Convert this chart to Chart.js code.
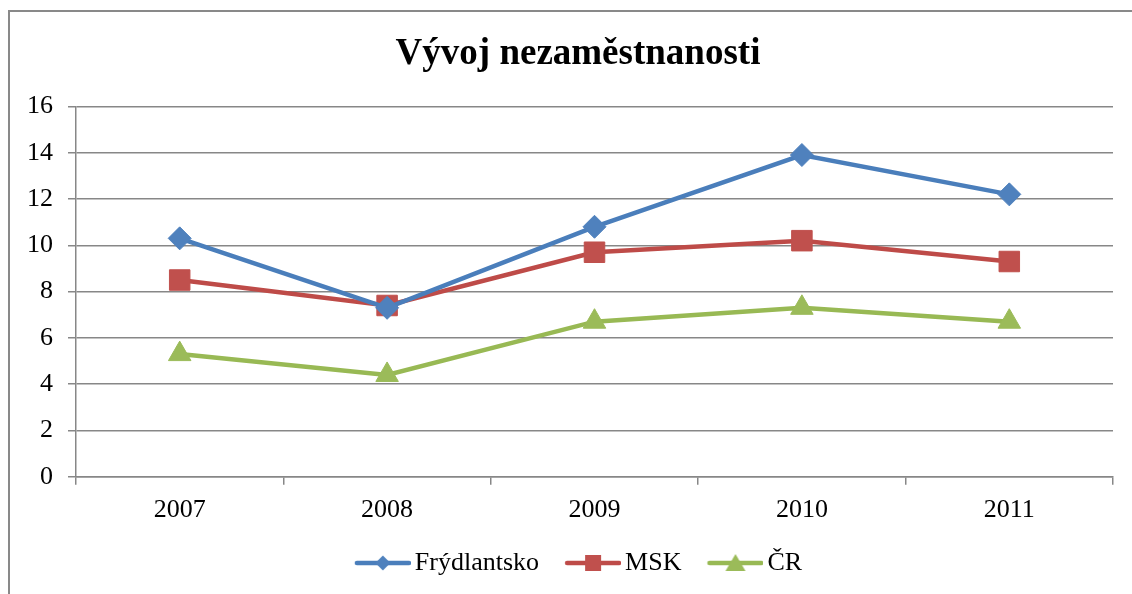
<!DOCTYPE html>
<html>
<head>
<meta charset="utf-8">
<script src="https://cdn.jsdelivr.net/npm/chart.js@4.4.0/dist/chart.umd.min.js"></script>
<style>
  body { margin: 0; background: #fff; overflow: hidden; }
  #wrap { position: relative; width: 1132px; height: 594px; overflow: hidden; }
  #frame { position: absolute; left: 8px; top: 10px; width: 1200px; height: 700px; border: 2px solid #898989; }
  #chartCanvas { position: absolute; left: 0; top: 0; }
</style>
</head>
<body>
<div id="wrap">
  <div id="frame"></div>
  <canvas id="chartCanvas" width="1156" height="594"></canvas>
</div>
<script>
const years = ['2007', '2008', '2009', '2010', '2011'];
const frydlantsko = [10.3, 7.3, 10.8, 13.9, 12.2];
const msk = [8.5, 7.4, 9.7, 10.2, 9.3];
const cr = [5.3, 4.4, 6.7, 7.3, 6.7];
const yTicks = [0, 2, 4, 6, 8, 10, 12, 14, 16];

const FONT = "'Liberation Serif', 'Times New Roman', serif";
const GRID = '#878787';

// legend icon: line with marker in the middle, like excel
function makeIcon(lineColor, markColor, shape) {
  const c = document.createElement('canvas');
  c.width = 66;
  c.height = 26;
  const g = c.getContext('2d');
  g.strokeStyle = lineColor;
  g.lineWidth = 4.5;
  g.lineCap = 'round';
  g.beginPath();
  g.moveTo(12, 13);
  g.lineTo(64, 13);
  g.stroke();
  g.fillStyle = markColor;
  g.beginPath();
  const cx = 38, cy = 13;
  if (shape === 'diamond') {
    g.moveTo(cx - 7.5, cy); g.lineTo(cx, cy - 7.5); g.lineTo(cx + 7.5, cy); g.lineTo(cx, cy + 7.5);
  } else if (shape === 'square') {
    g.rect(cx - 8, cy - 8, 16, 16);
  } else {
    g.moveTo(cx, cy - 9); g.lineTo(cx + 10, cy + 8); g.lineTo(cx - 10, cy + 8);
  }
  g.closePath();
  g.fill();
  return c;
}

const icons = [
  makeIcon('#4A7EBB', '#4F81BD', 'diamond'),
  makeIcon('#BE4B48', '#C0504D', 'square'),
  makeIcon('#98B954', '#9BBB59', 'triangle')
];

const ctx = document.getElementById('chartCanvas').getContext('2d');
const chart = new Chart(ctx, {
  type: 'line',
  data: {
    labels: years,
    datasets: [{
      label: 'Frýdlantsko',
      data: frydlantsko,
      borderColor: '#4A7EBB',
      backgroundColor: '#4F81BD',
      borderWidth: 4.5,
      pointStyle: 'rectRot',
      pointRadius: 11.5,
      pointBorderWidth: 1,
      pointBorderColor: '#4F81BD',
      pointBackgroundColor: '#4F81BD',
      tension: 0
    }, {
      label: 'MSK',
      data: msk,
      borderColor: '#BE4B48',
      backgroundColor: '#C0504D',
      borderWidth: 4.5,
      pointStyle: 'rect',
      pointRadius: 14.5,
      pointBorderWidth: 1,
      pointBorderColor: '#C0504D',
      pointBackgroundColor: '#C0504D',
      tension: 0
    }, {
      label: 'ČR',
      data: cr,
      borderColor: '#98B954',
      backgroundColor: '#9BBB59',
      borderWidth: 4.5,
      pointStyle: 'triangle',
      pointRadius: 13,
      pointBorderWidth: 1,
      pointBorderColor: '#9BBB59',
      pointBackgroundColor: '#9BBB59',
      tension: 0
    }]
  },
  options: {
    responsive: false,
    devicePixelRatio: 1,
    animation: false,
    layout: { padding: { top: 0, bottom: 8, left: 0, right: 0 } },
    scales: {
      x: {
        offset: true,
        afterFit: s => { s.height = s.height - 11; },
        grid: {
          display: true,
          drawOnChartArea: false,
          drawTicks: true,
          tickLength: 8,
          color: GRID,
          lineWidth: 1.5,
          offset: true
        },
        border: { display: true, color: GRID, width: 1.5 },
        ticks: { color: '#000', font: { family: FONT, size: 26 }, padding: 10, maxRotation: 0 }
      },
      y: {
        min: 0,
        max: 16,
        afterBuildTicks: s => { s.ticks = yTicks.map(v => ({ value: v })); },
        afterFit: s => { s.width = 76; },
        grid: { color: GRID, lineWidth: 1.5, tickLength: 8 },
        border: { display: true, color: GRID, width: 1.5 },
        ticks: { color: '#000', font: { family: FONT, size: 26 }, padding: 15 }
      },
      yRight: {
        position: 'right',
        display: true,
        afterFit: s => { s.width = 43; },
        grid: { display: false },
        border: { display: false },
        ticks: { display: false }
      }
    },
    plugins: {
      title: {
        display: true,
        text: 'Vývoj nezaměstnanosti',
        color: '#000',
        font: { family: FONT, size: 37, weight: 'bold' },
        padding: { top: 32, bottom: 30 }
      },
      legend: {
        display: true,
        position: 'bottom',
        labels: {
          color: '#000',
          font: { family: FONT, size: 26 },
          usePointStyle: true,
          pointStyleWidth: 48,
          padding: 25,
          generateLabels: (c) => {
            const items = Chart.defaults.plugins.legend.labels.generateLabels(c);
            items.forEach((it, i) => { it.pointStyle = icons[i]; });
            return items;
          }
        }
      },
      tooltip: { enabled: false }
    }
  }
});
</script>
</body>
</html>
